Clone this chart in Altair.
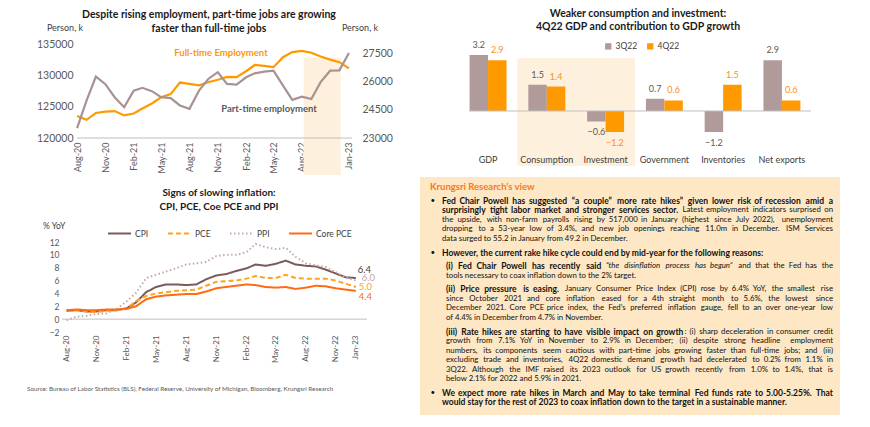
import altair as alt
import pandas as pd

FONT = "Lato"
GREY = "#595959"
DARK = "#404040"
ORANGE = "#FF9900"
PART = "#A99292"
SHADE = "#FDF0DD"
BOX = "#FDE7C4"
AXIS_LINE = "#BFBFBF"

# ---------------- data ----------------
months = pd.date_range("2020-08-01", "2023-01-01", freq="MS")

full_time = [123500, 122900, 124000, 124200, 124300, 123600, 123900, 124700, 125500, 126500,
             127000, 128850, 128650, 128400, 128900, 129300, 129750, 129700, 130650, 131650,
             131500, 131300, 132900, 133700, 133900, 133600, 133000, 132500, 132100, 131100]
part_time = [23530, 25000, 26265, 25860, 25170, 24640, 25520, 25670, 25490, 25170,
             25120, 24730, 24550, 25520, 26140, 26500, 25880, 25840, 26230, 26440,
             26530, 26580, 25790, 25030, 25200, 25070, 25970, 26580, 26600, 27520]
emp_shade_start = "2022-08-07"
emp_shade_end = "2022-12-05"
emp_shade_top = 132800

infl_series = ["CPI", "PCE", "PPI", "Core PCE"]
cpi = [1.3, 1.4, 1.2, 1.2, 1.4, 1.4, 1.7, 2.6, 4.2, 5.0, 5.4, 5.4, 5.3, 5.4, 6.2,
       6.8, 7.0, 7.5, 7.9, 8.5, 8.3, 8.6, 9.1, 8.5, 8.3, 8.2, 7.7, 7.1, 6.5, 6.4]
pce = [1.4, 1.4, 1.2, 1.1, 1.3, 1.4, 1.7, 2.8, 3.6, 4.0, 4.2, 4.4, 4.5, 4.6, 5.2,
       5.8, 5.9, 6.0, 6.3, 6.7, 6.4, 6.4, 6.9, 6.4, 6.3, 6.3, 6.3, 6.0, 5.5, 5.0]
ppi = [-0.2, 0.4, 0.5, 0.8, 0.9, 1.6, 2.8, 4.1, 6.4, 6.9, 7.4, 7.9, 8.5, 8.7, 8.9,
       9.8, 10.0, 10.0, 10.4, 11.7, 11.2, 10.9, 11.1, 9.7, 8.7, 8.4, 8.1, 7.3, 6.5, 6.0]
core_pce = [1.4, 1.5, 1.4, 1.4, 1.5, 1.5, 1.6, 2.0, 3.1, 3.5, 3.7, 3.8, 3.9, 3.9, 4.3,
            4.8, 5.0, 5.2, 5.4, 5.3, 5.0, 4.9, 5.0, 4.7, 4.9, 5.2, 5.1, 4.8, 4.6, 4.4]

gdp_categories = ["GDP", "Consumption", "Investment", "Government", "Inventories", "Net exports"]
q3_22 = [3.2, 1.5, -0.6, 0.7, -1.2, 2.9]
q4_22 = [2.9, 1.4, -1.2, 0.6, 1.5, 0.6]
quarters = ["3Q22", "4Q22"]
highlight_categories = ["Consumption", "Investment"]
highlight_top = 3.03

emp_title = ["Despite rising employment, part-time jobs are growing", "faster than full-time jobs"]
infl_title = ["Signs of slowing inflation:", "CPI, PCE, Coe PCE and PPI"]
bar_title = ["Weaker consumption and investment:", "4Q22 GDP and contribution to GDP growth"]
source_text = "Source: Bureau of Labor Statistics (BLS), Federal Reserve, University of Michigan, Bloomberg,  Krungsri Research"

view_title = "Krungsri Research\u2019s view"
# each paragraph: (kind, lines); each line: list of (text, style)
paragraphs = [
    ("bullet", [
        [("Fed Chair Powell has suggested \u201ca couple\u201d more rate hikes\u201d given lower risk of recession amid a", "bold")],
        [("surprisingly tight labor market and stronger services sector.", "bold"),
         (" Latest employment indicators surprised on", "reg")],
        [("the upside, with non-farm payrolls rising by 517,000 in January (highest since July 2022), unemployment", "reg")],
        [("dropping to a 53-year low of 3.4%, and new job openings reaching 11.0m in December. ISM Services", "reg")],
        [("data surged to 55.2 in January from 49.2 in December.", "reg")],
    ]),
    ("bullet", [
        [("However, the current rake hike cycle could end by mid-year for the following reasons:", "bold")],
    ]),
    ("sub", [
        [("(i) Fed Chair Powell has recently said", "bold"),
         (" \u201cthe disinflation process has begun\u201d", "italic"),
         (" and that the Fed has the", "reg")],
        [("tools necessary to coax inflation down to the 2% target.", "reg")],
    ]),
    ("sub", [
        [("(ii) Price pressure is easing.", "bold"),
         (" January Consumer Price Index (CPI) rose by 6.4% YoY, the smallest rise", "reg")],
        [("since October 2021 and core inflation eased for a 4th straight month to 5.6%, the lowest since", "reg")],
        [("December 2021. Core PCE price index, the Fed\u2019s preferred inflation gauge, fell to an over one-year low", "reg")],
        [("of 4.4% in December from 4.7% in November.", "reg")],
    ]),
    ("sub", [
        [("(iii) Rate hikes are starting to have visible impact on growth", "bold"),
         (": (i) sharp deceleration in consumer credit", "reg")],
        [("growth from 7.1% YoY in November to 2.9% in December; (ii) despite strong headline employment", "reg")],
        [("numbers, its components seem cautious with part-time jobs growing faster than full-time jobs; and (iii)", "reg")],
        [("excluding trade and inventories, 4Q22 domestic demand growth had decelerated to 0.2% from 1.1% in", "reg")],
        [("3Q22. Although the IMF raised its 2023 outlook for US growth recently from 1.0% to 1.4%, that is", "reg")],
        [("below 2.1% for 2022 and 5.9% in 2021.", "reg")],
    ]),
    ("bullet", [
        [("We expect more rate hikes in March and May to take terminal Fed funds rate to 5.00-5.25%. That", "bold")],
        [("would stay for the rest of 2023 to coax inflation down to the target in a sustainable manner.", "bold")],
    ]),
]


def dt(ts):
    ts = pd.Timestamp(ts)
    return alt.DateTime(year=ts.year, month=ts.month, date=ts.day)


def txt(text, x, y, size, color=DARK, weight="normal", align="center", style="normal"):
    return alt.Chart(pd.DataFrame({"t": [text]})).mark_text(
        font=FONT, fontSize=size, color=color, fontWeight=weight, align=align,
        baseline="middle", fontStyle=style
    ).encode(text="t:N", x=alt.value(x), y=alt.value(y))


tick_months = [dt(m) for m in list(months[::3]) + [months[-1]]]

# ---------------- chart 1: employment ----------------
W1, H1 = 290, 94
emp_df = pd.DataFrame({"month": months, "full": full_time, "part": part_time})

x1 = alt.X("month:T", scale=alt.Scale(domain=[dt("2020-06-13"), dt("2023-01-11")]),
           axis=alt.Axis(title=None, values=tick_months, format="%b-%y", labelAngle=270,
                         labelAlign="right", labelBaseline="middle", labelPadding=4,
                         labelFont=FONT, labelFontSize=9, labelColor=GREY, domain=False,
                         ticks=False, grid=False, labelFlush=False, labelOverlap=False))
yL = alt.Y("full:Q", scale=alt.Scale(domain=[120000, 135000], nice=False, zero=False),
           axis=alt.Axis(title=None, values=[120000, 125000, 130000, 135000], format="d",
                         offset=-15, labelPadding=4, labelFont=FONT, labelFontSize=10.5,
                         labelColor=GREY, domain=False, ticks=False, grid=False,
                         labelFlush=False, labelOverlap=False))
yR = alt.Y("part:Q", scale=alt.Scale(domain=[23000, 28000], nice=False, zero=False),
           axis=alt.Axis(title=None, orient="right", values=[23000, 24500, 26000, 27500],
                         format="d", labelPadding=10, labelFont=FONT, labelFontSize=10.5,
                         labelColor=GREY, domain=False, ticks=False, grid=False,
                         labelFlush=False, labelOverlap=False))

shade1 = alt.Chart(pd.DataFrame({"month": [pd.Timestamp(emp_shade_start)],
                                 "month_end": [pd.Timestamp(emp_shade_end)],
                                 "full": [emp_shade_top]})).mark_rect(color=SHADE).encode(
    x=x1, x2="month_end:T", y=yL, y2=alt.value(H1 + 37))
axis_rule1 = alt.Chart(pd.DataFrame({"month": [months[0]],
                                     "month_end": [pd.Timestamp("2023-01-11")]})).mark_rule(
    color=AXIS_LINE, strokeWidth=1).encode(x=x1, x2="month_end:T", y=alt.value(H1))
full_line = alt.Chart(emp_df).mark_line(color=ORANGE, strokeWidth=2.2).encode(x=x1, y=yL)
part_line = alt.Chart(emp_df).mark_line(color=PART, strokeWidth=2.2).encode(x=x1, y=yR)

left_group = alt.layer(
    shade1, axis_rule1, full_line,
    txt(emp_title[0], 147, -29, 10.5, "#1a1a1a", "bold"),
    txt(emp_title[1], 147, -15, 10.5, "#1a1a1a", "bold"),
    txt("Person, k", 3, -16, 9, DARK),
    txt("Person, k", 298, -16, 9, DARK),
    txt("Full-time Employment", 159, 9, 9.5, ORANGE, "bold"),
    txt("Part-time employment", 207, 65, 9.5, GREY, "bold"),
)
emp = alt.layer(left_group, part_line).resolve_scale(y="independent").properties(width=W1, height=H1)

# ---------------- chart 2: inflation ----------------
W2, H2 = 305, 90
infl_long = pd.DataFrame({
    "month": list(months) * 4,
    "series": sum([[s] * len(months) for s in infl_series], []),
    "value": cpi + pce + ppi + core_pce,
})
infl_colors = ["#7A5A5A", "#FFA31A", "#C8A8A8", "#FF6A14"]
infl_dash = [[1, 0], [5, 3], [1.5, 2.5], [1, 0]]

x2 = alt.X("month:T", scale=alt.Scale(domain=[dt("2020-07-18"), dt("2023-02-04")]),
           axis=alt.Axis(title=None, values=tick_months, format="%b-%y", labelAngle=270,
                         labelAlign="right", labelBaseline="middle", labelPadding=3,
                         labelFont=FONT, labelFontSize=8, labelColor=GREY, domain=False,
                         ticks=False, grid=False, labelFlush=False, labelOverlap=False))
y2 = alt.Y("value:Q", scale=alt.Scale(domain=[-2, 12], nice=False),
           axis=alt.Axis(title=None, values=list(range(-2, 13, 2)), labelPadding=3,
                         labelFont=FONT, labelFontSize=8.5, labelColor=GREY, domain=False,
                         ticks=False, grid=False, labelFlush=False, labelOverlap=False))
leg2 = alt.Legend(orient="none", legendX=45, legendY=-21, direction="horizontal", title=None,
                  symbolType="stroke", symbolSize=529, symbolStrokeWidth=2,
                  labelFont=FONT, labelFontSize=8.5, labelColor=DARK, labelOffset=3,
                  columnPadding=15)
infl_lines = alt.Chart(infl_long).mark_line(strokeWidth=2).encode(
    x=x2, y=y2,
    color=alt.Color("series:N", scale=alt.Scale(domain=infl_series, range=infl_colors), legend=leg2),
    strokeDash=alt.StrokeDash("series:N", scale=alt.Scale(domain=infl_series, range=infl_dash), legend=leg2),
)
zero2 = alt.Chart(pd.DataFrame({"value": [0]})).mark_rule(color=AXIS_LINE).encode(
    y=y2, x=alt.value(0), x2=alt.value(W2))

end_style = {"CPI": ("#404040", 2, -8), "PPI": ("#C4A8A8", 6, -3),
             "PCE": ("#FFA31A", 3, 0), "Core PCE": ("#FF6A14", 3, 6)}
end_labels = []
for s, vals in zip(infl_series, [cpi, pce, ppi, core_pce]):
    c, ddx, ddy = end_style[s]
    end_labels.append(
        alt.Chart(pd.DataFrame({"month": [months[-1]], "value": [vals[-1]]})).mark_text(
            font=FONT, fontSize=9.5, color=c, align="left", baseline="middle", dx=ddx, dy=ddy
        ).encode(x=x2, y=y2, text=alt.Text("value:Q", format=".1f")))

infl = alt.layer(
    zero2, infl_lines, *end_labels,
    txt(infl_title[0], 157, -49, 10, "#1a1a1a", "bold"),
    txt(infl_title[1], 157, -35, 10, "#1a1a1a", "bold"),
    txt("% YoY", -19, -16, 8.5, DARK, align="left"),
    txt(source_text, -35, 147, 6.3, GREY, align="left"),
).properties(width=W2, height=H2)

# ---------------- chart 3: GDP bars ----------------
W3, H3 = 420, 106
bar_df = pd.DataFrame({
    "category": gdp_categories * 2,
    "quarter": ["3Q22"] * 6 + ["4Q22"] * 6,
    "value": q3_22 + q4_22,
})
xb = alt.X("category:N", sort=gdp_categories,
           scale=alt.Scale(paddingInner=0, paddingOuter=0.573, align=0.574),
           axis=alt.Axis(title=None, labelAngle=0, domain=False, ticks=False, labelFont=FONT,
                         labelFontSize=9, labelColor=DARK, labelPadding=5))
xo = alt.XOffset("quarter:N", sort=quarters, scale=alt.Scale(paddingOuter=0.59, paddingInner=0))
yb = alt.Y("value:Q", scale=alt.Scale(domain=[-2.23, 3.83], nice=False), axis=None)

shade3 = alt.Chart(pd.DataFrame({"category": highlight_categories,
                                 "value": [highlight_top] * len(highlight_categories)})).mark_rect(
    color=SHADE).encode(x=xb, y=yb, y2=alt.value(H3 + 16))
bars = alt.Chart(bar_df).mark_bar().encode(
    x=xb, xOffset=xo, y=yb,
    color=alt.Color("quarter:N", sort=quarters,
                    scale=alt.Scale(domain=quarters, range=["#B09A9A", ORANGE]),
                    legend=alt.Legend(orient="none", legendX=184, legendY=-2, direction="horizontal",
                                      title=None, symbolType="square", symbolSize=40,
                                      labelFont=FONT, labelFontSize=8.5, labelColor=DARK,
                                      labelOffset=3, columnPadding=8)))
zero3 = alt.Chart(pd.DataFrame({"value": [0]})).mark_rule(color=AXIS_LINE).encode(
    y=yb, x=alt.value(49), x2=alt.value(391))

val_layers = []
for q, col in [("3Q22", GREY), ("4Q22", "#FF8C1A")]:
    for pos, ddy in [(True, -10), (False, 11)]:
        cond = (alt.datum.quarter == q) & ((alt.datum.value >= 0) if pos else (alt.datum.value < 0))
        val_layers.append(alt.Chart(bar_df).transform_filter(cond).mark_text(
            font=FONT, fontSize=9, color=col, baseline="middle", dy=ddy).encode(
            x=xb, xOffset=xo, y=yb, text=alt.Text("value:Q", format=".1f")))

bars_chart = alt.layer(
    shade3, bars, zero3, *val_layers,
    txt(bar_title[0], 218, -30, 10.5, "#1a1a1a", "bold"),
    txt(bar_title[1], 218, -17, 10.5, "#1a1a1a", "bold"),
).properties(width=W3, height=H3)

# ---------------- chart 4: text box (justified paragraphs) ----------------
W4, H4 = 420, 238
LEFT_BULLET, LEFT_SUB, RIGHT = 22, 26, 413
STEP, PARA_GAP, Y0 = 9.55, 13.6, 23.7
SIZE = {"reg": 7.8, "bold": 8.5, "italic": 7.8}
KW = {"reg": 1.07, "bold": 1.12, "italic": 1.02}   # rough width calibration per style

_lw = dict(a=.479, b=.525, c=.423, d=.525, e=.498, f=.305, g=.471, h=.525, i=.229, j=.239,
           k=.455, l=.229, m=.799, n=.525, o=.527, p=.525, q=.525, r=.349, s=.391, t=.335,
           u=.525, v=.452, w=.715, x=.433, y=.453, z=.395)
_uw = dict(A=.579, B=.544, C=.533, D=.615, E=.488, F=.459, G=.631, H=.623, I=.252, J=.319,
           K=.520, L=.420, M=.855, N=.646, O=.662, P=.517, Q=.673, R=.543, S=.459, T=.487,
           U=.642, V=.567, W=.890, X=.519, Y=.487, Z=.468)
_pw = {".": .252, ",": .250, ":": .268, ";": .268, "(": .303, ")": .303, "%": .715, "-": .306,
       "'": .221, "\u2019": .250, "\u201c": .418, "\u201d": .418, '"': .401, "/": .386}
SPACE_EM = .226


def est_width(word, style):
    em = 0.0
    for ch in word:
        if ch in _lw:
            em += _lw[ch]
        elif ch in _uw:
            em += _uw[ch]
        elif ch.isdigit():
            em += .507
        else:
            em += _pw.get(ch, .5)
    return em * SIZE[style] * KW[style]


rows = []
y = Y0 - STEP
for pi, (kind, lines) in enumerate(paragraphs):
    if pi > 0:
        y += PARA_GAP - STEP
    for li, line in enumerate(lines):
        y += STEP
        left = LEFT_BULLET if kind == "bullet" else LEFT_SUB
        if kind == "bullet" and li == 0:
            rows.append({"t": "\u2022", "x": 12.7, "y": y, "k": "bullet", "a": "center"})
        justify = li < len(lines) - 1
        if not justify:
            for text, st in line:
                rows.append({"t": text, "x": left, "y": y, "k": st, "a": "left"})
            continue
        tokens = []
        for text, st in line:
            for j, wd in enumerate(text.split(" ")):
                if wd == "":
                    continue
                tokens.append((wd, st, j > 0 and len(tokens) > 0))
        widths = [est_width(w, st) for w, st, _ in tokens]
        avail = RIGHT - left
        # proportional positions
        starts_p, cum = [], 0.0
        for i, (w, st, sp) in enumerate(tokens):
            if sp:
                cum += SPACE_EM * SIZE[st] * KW[st]
            starts_p.append(cum)
            cum += widths[i]
        starts_p = [s * avail / cum for s in starts_p]
        # true justified positions (uniform gaps)
        n_sp = sum(1 for _, _, sp in tokens if sp)
        gap = (avail - sum(widths)) / max(n_sp, 1)
        starts_j, xx = [], 0.0
        for i, (w, st, sp) in enumerate(tokens):
            if sp:
                xx += gap
            starts_j.append(xx)
            xx += widths[i]
        blend = 0.6 if gap > 1.5 else 0.0
        for i, (w, st, sp) in enumerate(tokens):
            xs = left + blend * starts_j[i] + (1 - blend) * starts_p[i]
            if i == len(tokens) - 1:
                rows.append({"t": w, "x": RIGHT, "y": y, "k": st, "a": "right"})
            else:
                rows.append({"t": w, "x": xs, "y": y, "k": st, "a": "left"})
text_df = pd.DataFrame(rows)

kind_style = {
    "bold": dict(fontWeight="bold", fontSize=SIZE["bold"]),
    "reg": dict(fontWeight="normal", fontSize=SIZE["reg"]),
    "italic": dict(fontWeight="normal", fontStyle="italic", fontSize=SIZE["italic"]),
    "bullet": dict(fontWeight="normal", fontSize=8),
}
box_layers = []
for k, st in kind_style.items():
    for a in ["left", "right", "center"]:
        sub = text_df[(text_df.k == k) & (text_df.a == a)]
        if len(sub) == 0:
            continue
        box_layers.append(alt.Chart(sub).mark_text(
            font=FONT, color="#111111", baseline="middle", align=a, **st).encode(
            text="t:N", x=alt.X("x:Q", scale=None), y=alt.Y("y:Q", scale=None)))
box_layers.append(txt(view_title, 10, 10.3, 9.5, "#F47B20", "bold", align="left"))

box = alt.layer(*box_layers).properties(
    width=W4, height=H4, view=alt.ViewBackground(fill=BOX, stroke=None))

# ---------------- layout ----------------
left_col = alt.vconcat(emp, infl, spacing=104, bounds="flush").resolve_scale(
    color="independent", strokeDash="independent")
right_col = alt.vconcat(bars_chart, box, spacing=27, bounds="flush").resolve_scale(
    color="independent")
chart = alt.hconcat(left_col, right_col, spacing=27).resolve_scale(
    color="independent", strokeDash="independent").properties(
    padding={"left": 19, "top": 1, "right": 4, "bottom": 4}
).configure(font=FONT).configure_view(stroke=None)

chart.save("out.html", embed_options={"renderer": "svg", "actions": False})
